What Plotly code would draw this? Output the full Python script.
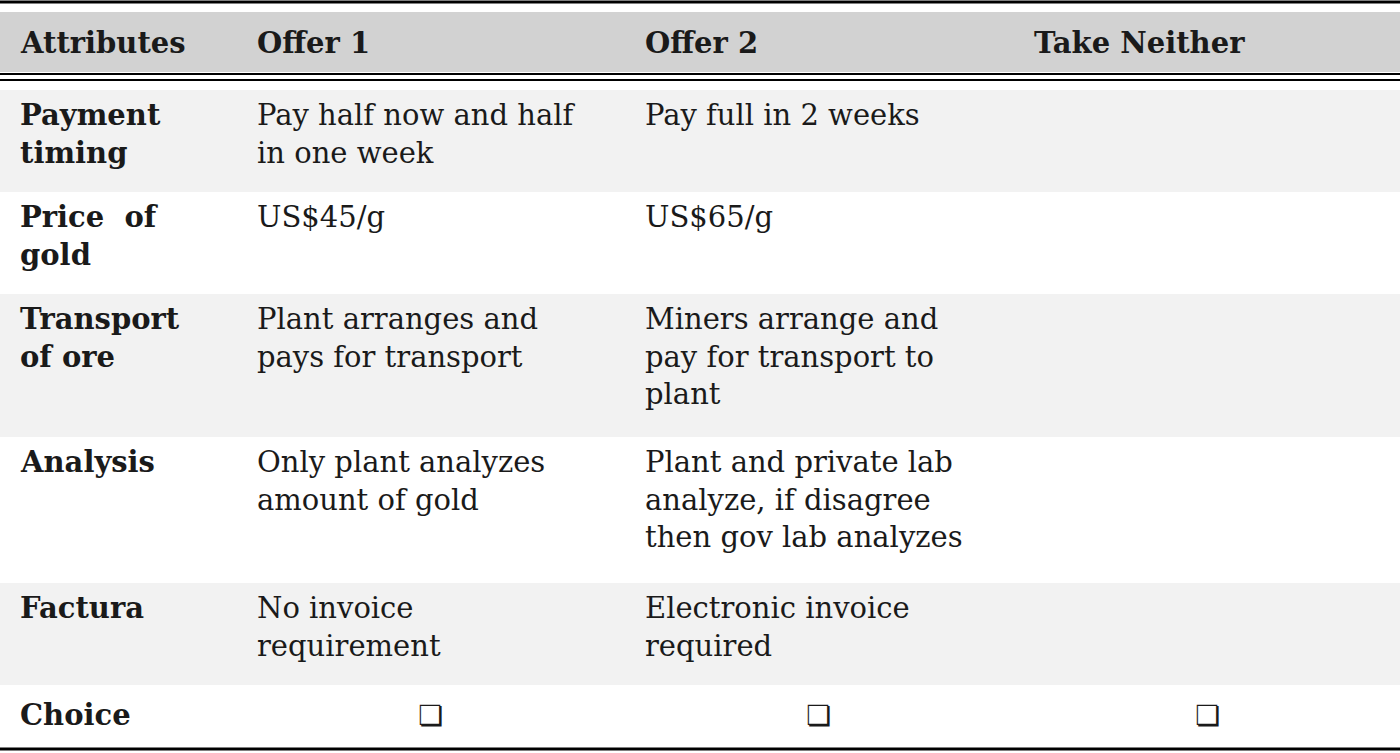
import plotly.graph_objects as go

headers = ["Attributes", "Offer 1", "Offer 2", "Take Neither"]
attributes = ["Payment<br>timing", "Price  of<br>gold", "Transport<br>of ore", "Analysis", "Factura", "Choice"]
offer1 = ["Pay half now and half<br>in one week", "US$45/g", "Plant arranges and<br>pays for transport",
          "Only plant analyzes<br>amount of gold", "No invoice<br>requirement", "❏"]
offer2 = ["Pay full in 2 weeks", "US$65/g", "Miners arrange and<br>pay for transport to<br>plant",
          "Plant and private lab<br>analyze, if disagree<br>then gov lab analyzes", "Electronic invoice<br>required", "❏"]
neither = ["", "", "", "", "", "❏"]

# layout (pixels)
col_x = [18, 255, 643, 1032]
choice_x = [430, 818, 1207]
row_edges = [90, 192, 294, 437, 583, 685, 745]
W, H = 1400, 753
FONT = "DejaVu Serif"
FS = 29

fig = go.Figure()
shapes = []
ann = []
shapes.append(dict(type="rect", x0=0, x1=W, y0=12, y1=72, fillcolor="#d2d2d2", line_width=0, layer="below"))
for i in range(len(attributes)):
    if i % 2 == 0:
        shapes.append(dict(type="rect", x0=0, x1=W, y0=row_edges[i], y1=row_edges[i+1],
                           fillcolor="#f2f2f2", line_width=0, layer="below"))
shapes += [
    dict(type="line", x0=0, x1=W, y0=2, y1=2, line=dict(color="black", width=3)),
    dict(type="line", x0=0, x1=W, y0=74, y1=74, line=dict(color="black", width=2)),
    dict(type="line", x0=0, x1=W, y0=80, y1=80, line=dict(color="black", width=2)),
    dict(type="line", x0=0, x1=W, y0=749, y1=749, line=dict(color="black", width=3)),
]
for h, x in zip(headers, col_x):
    ann.append(dict(x=x, y=43, text=f"<b>{h}</b>", xanchor="left", yanchor="middle", showarrow=False))
for i in range(len(attributes)):
    top = row_edges[i] + 6
    mid = (row_edges[i] + row_edges[i+1]) / 2
    if attributes[i] == "Choice":
        ann.append(dict(x=col_x[0], y=mid, text=f"<b>{attributes[i]}</b>",
                        xanchor="left", yanchor="middle", showarrow=False))
        for v, cx in zip([offer1[i], offer2[i], neither[i]], choice_x):
            ann.append(dict(x=cx, y=mid, text=v, xanchor="center",
                            yanchor="middle", showarrow=False, font=dict(family="DejaVu Sans", size=28)))
        continue
    ann.append(dict(x=col_x[0], y=top, text=f"<b>{attributes[i]}</b>", xanchor="left", yanchor="top", showarrow=False, align="left"))
    ann.append(dict(x=col_x[1], y=top, text=offer1[i], xanchor="left", yanchor="top", showarrow=False, align="left"))
    ann.append(dict(x=col_x[2], y=top, text=offer2[i], xanchor="left", yanchor="top", showarrow=False, align="left"))
    if neither[i]:
        ann.append(dict(x=col_x[3], y=top, text=neither[i], xanchor="left", yanchor="top", showarrow=False, align="left"))

fig.update_layout(width=W, height=H, margin=dict(l=0, r=0, t=0, b=0),
                  paper_bgcolor="white", plot_bgcolor="white",
                  font=dict(family=FONT, size=FS, color="#1a1a1a"),
                  xaxis=dict(range=[0, W], visible=False, fixedrange=True),
                  yaxis=dict(range=[H, 0], visible=False, fixedrange=True),
                  shapes=shapes, annotations=ann, showlegend=False)
fig.write_html("out.html", config={"displayModeBar": False},
               post_script="document.body.style.margin='0';document.body.style.overflow='hidden';")
